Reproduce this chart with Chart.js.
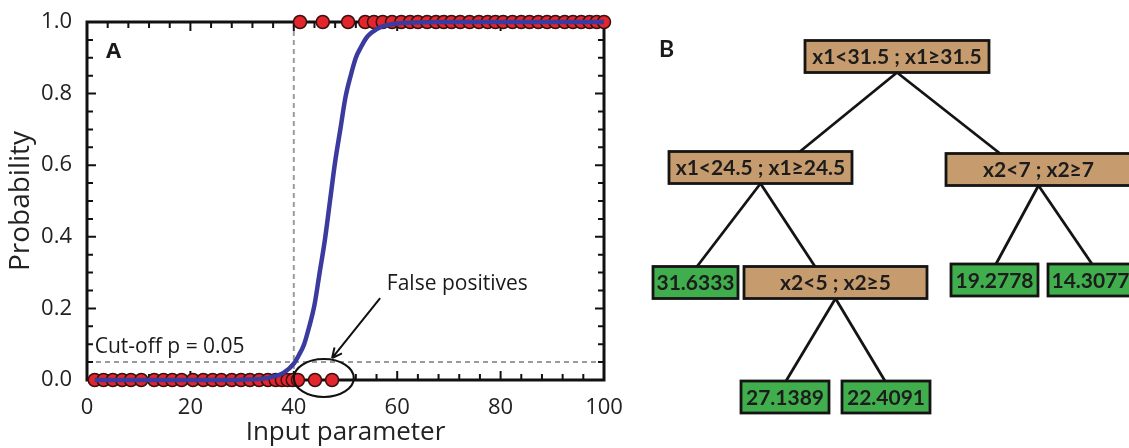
<!DOCTYPE html>
<html>
<head>
<meta charset="utf-8">
<script src="https://cdn.jsdelivr.net/npm/chart.js@4.4.0/dist/chart.umd.min.js"></script>
<style>
  html, body { margin: 0; padding: 0; background: #fff; }
  #wrap { position: relative; width: 1129px; height: 448px; overflow: hidden; background: #fff; }
  #chartA { position: absolute; left: 0; top: 0; }
  #chartB { position: absolute; left: 620px; top: 0; }
</style>
</head>
<body>
<div id="wrap">
  <canvas id="chartA" width="640" height="448"></canvas>
  <canvas id="chartB" width="509" height="448"></canvas>
</div>
<script>
// ---------- Panel A: logistic fit of a binary outcome ----------
// observations with outcome 0
const negativeX = [1.5, 3.2, 5, 6.8, 8.5, 10.5, 13, 14.8, 16.5, 18.3, 20.5, 22.5, 24.3, 26, 28, 29.8, 31.5, 33.3, 35, 36.5, 37.7, 38.8, 39.8, 40.8, 44.1, 47.4];
// observations with outcome 1
const positiveX = [41.2, 45.6, 50.5, 53.8, 55.5, 57.2, 59, 60.8, 62.5, 64, 65.8, 67.5, 69, 70.5, 72.2, 74, 75.8, 77.5, 79, 80.5, 82.3, 84, 85.6, 87.3, 89, 90.6, 92.4, 94, 95.6, 97.2, 98.6, 100];
// fitted probability curve
const curveX = [1.5, 10, 20, 30, 35, 38, 40, 41, 42, 43, 44, 45, 46, 47, 48, 49, 50, 51, 52, 53, 54, 55, 57, 60, 70, 80, 90, 100];
const curveP = [0, 0, 0, 0.001, 0.006, 0.02, 0.046, 0.07, 0.10, 0.15, 0.21, 0.30, 0.39, 0.50, 0.61, 0.70, 0.79, 0.85, 0.90, 0.93, 0.955, 0.97, 0.987, 0.996, 1, 1, 1, 1];
// thresholds
const cutoffP = 0.05;
const cutoffX = 40;
// circled false positives
const fpCenterX = 45.8;
const xTickValues = [0, 20, 40, 60, 80, 100];
const yTickValues = [0, 0.2, 0.4, 0.6, 0.8, 1.0];

// ---------- Panel B: regression tree ----------
const nodeLabels = ['x1<31.5 ; x1≥31.5', 'x1<24.5 ; x1≥24.5', 'x2<7 ; x2≥7', '31.6333', 'x2<5 ; x2≥5', '19.2778', '14.3077', '27.1389', '22.4091'];
const nodeParent = [-1, 0, 0, 1, 1, 2, 2, 4, 4];
const nodeIsLeaf = [false, false, false, true, false, true, true, true, true];

// tree layout (panel units = canvas pixels)
const nodeX = [277, 140.5, 418.5, 75.5, 215.5, 374.5, 470.5, 165, 266];
const nodeY = [56.5, 167.5, 169.5, 282.5, 282.5, 280, 280, 397, 397];
const nodeW = [184, 183, 185, 85, 183, 87, 85, 88, 88];
const edgeEndX = [null, 180, 380, 77, 195, 376, 472, 166, 265];
const BOX_H = 32;

const FONT = "'Open Sans', 'DejaVu Sans', sans-serif";
const TREE_FONT = "Lato, 'Open Sans', sans-serif";

const decorA = {
  id: 'decorA',
  beforeDatasetsDraw(chart) {
    const { ctx, chartArea: a, scales: { x, y } } = chart;
    ctx.save();
    // dashed guide lines
    ctx.strokeStyle = '#9b9b9b';
    ctx.lineWidth = 2;
    ctx.setLineDash([5, 4]);
    ctx.beginPath();
    ctx.moveTo(x.getPixelForValue(cutoffX), y.getPixelForValue(1));
    ctx.lineTo(x.getPixelForValue(cutoffX), y.getPixelForValue(0));
    ctx.stroke();
    ctx.beginPath();
    ctx.moveTo(x.getPixelForValue(0), y.getPixelForValue(cutoffP));
    ctx.lineTo(x.getPixelForValue(100), y.getPixelForValue(cutoffP));
    ctx.stroke();
    ctx.setLineDash([]);

    // inward tick marks on all four sides
    ctx.strokeStyle = '#111';
    ctx.lineWidth = 2;
    ctx.beginPath();
    for (let i = 0; i <= 25; i++) {
      const v = i * 4;
      const px = x.getPixelForValue(v);
      const len = (v % 20 === 0) ? 9 : 6;
      ctx.moveTo(px, a.bottom); ctx.lineTo(px, a.bottom - len);
      ctx.moveTo(px, a.top); ctx.lineTo(px, a.top + len);
    }
    for (let i = 0; i <= 20; i++) {
      const py = y.getPixelForValue(i * 0.05);
      const len = (i % 4 === 0) ? 9 : 6;
      ctx.moveTo(a.left, py); ctx.lineTo(a.left + len, py);
      ctx.moveTo(a.right, py); ctx.lineTo(a.right - len, py);
    }
    ctx.stroke();

    // frame
    ctx.lineWidth = 3;
    ctx.strokeRect(a.left, a.top, a.right - a.left, a.bottom - a.top);
    ctx.restore();
  },
  afterDatasetsDraw(chart) {
    const { ctx, chartArea: a, scales: { x, y } } = chart;
    ctx.save();
    ctx.fillStyle = '#1a1a1a';
    ctx.strokeStyle = '#111';

    // panel letter
    ctx.font = `bold 22px ${FONT}`;
    ctx.textAlign = 'left';
    ctx.textBaseline = 'alphabetic';
    ctx.fillText('A', a.left + 19, a.top + 36);

    // cut-off label
    ctx.font = `21px ${FONT}`;
    ctx.fillText('Cut-off p = 0.05', x.getPixelForValue(1.5), y.getPixelForValue(0.075));

    // ellipse around false positives
    ctx.lineWidth = 2.2;
    ctx.beginPath();
    ctx.ellipse(x.getPixelForValue(fpCenterX), y.getPixelForValue(0) - 2, 30, 19, 0, 0, Math.PI * 2);
    ctx.stroke();

    // annotation text and arrow
    ctx.font = `21px ${FONT}`;
    ctx.fillText('False positives', x.getPixelForValue(58), y.getPixelForValue(0.252));
    const x0 = x.getPixelForValue(56.7), y0 = y.getPixelForValue(0.229);
    const x1 = x.getPixelForValue(47.4), y1 = y.getPixelForValue(0.061);
    ctx.lineWidth = 2;
    ctx.beginPath();
    ctx.moveTo(x0, y0); ctx.lineTo(x1, y1);
    const ang = Math.atan2(y1 - y0, x1 - x0);
    const head = 11;
    ctx.moveTo(x1, y1); ctx.lineTo(x1 - head * Math.cos(ang - 0.45), y1 - head * Math.sin(ang - 0.45));
    ctx.moveTo(x1, y1); ctx.lineTo(x1 - head * Math.cos(ang + 0.45), y1 - head * Math.sin(ang + 0.45));
    ctx.stroke();
    ctx.restore();
  }
};

new Chart(document.getElementById('chartA'), {
  type: 'scatter',
  data: {
    datasets: [
      {
        label: 'Logistic fit',
        type: 'line',
        data: curveX.map((v, i) => ({ x: v, y: curveP[i] })),
        borderColor: '#3b3b9f',
        borderWidth: 4.5,
        pointRadius: 0,
        fill: false,
        cubicInterpolationMode: 'monotone',
        clip: false,
        order: 0
      },
      {
        label: 'Outcome 1',
        data: positiveX.map(v => ({ x: v, y: 1 })),
        backgroundColor: '#e3262c',
        borderColor: '#3a1010',
        borderWidth: 1.5,
        pointRadius: 6.5,
        clip: false,
        order: 1
      },
      {
        label: 'Outcome 0',
        data: negativeX.map(v => ({ x: v, y: 0 })),
        backgroundColor: '#e3262c',
        borderColor: '#3a1010',
        borderWidth: 1.5,
        pointRadius: 6.5,
        clip: false,
        order: 2
      }
    ]
  },
  options: {
    responsive: false,
    animation: false,
    devicePixelRatio: 1,
    layout: { padding: { left: 0, right: 36, top: 22, bottom: 0 } },
    plugins: { legend: { display: false }, tooltip: { enabled: false } },
    scales: {
      x: {
        type: 'linear', min: 0, max: 100,
        grid: { display: false }, border: { display: false },
        afterBuildTicks: s => { s.ticks = xTickValues.map(v => ({ value: v })); },
        afterFit: s => { s.height = 68; },
        ticks: { color: '#222', font: { family: FONT, size: 22 }, padding: 7, maxRotation: 0,
                 callback: v => String(v) },
        title: { display: true, text: 'Input parameter', color: '#222',
                 font: { family: FONT, size: 26 }, padding: { top: 0, bottom: 0 } }
      },
      y: {
        type: 'linear', min: 0, max: 1,
        grid: { display: false }, border: { display: false },
        afterBuildTicks: s => { s.ticks = yTickValues.map(v => ({ value: v })); },
        afterFit: s => { s.width = 87; },
        ticks: { color: '#222', font: { family: FONT, size: 22 }, padding: 7,
                 callback: v => Number(v).toFixed(1) },
        title: { display: true, text: 'Probability', color: '#222',
                 font: { family: FONT, size: 28 }, padding: { top: 4, bottom: 0 } }
      }
    }
  },
  plugins: [decorA]
});

// ---------- Panel B drawing ----------
const treeBoxes = {
  id: 'treeBoxes',
  afterDatasetsDraw(chart) {
    const { ctx, scales: { x, y } } = chart;
    ctx.save();
    ctx.font = `bold 23px ${TREE_FONT}`;
    ctx.fillStyle = '#1a1a1a';
    ctx.textAlign = 'left';
    ctx.textBaseline = 'alphabetic';
    ctx.fillText('B', x.getPixelForValue(39), y.getPixelForValue(57));

    nodeLabels.forEach((label, i) => {
      const cx = x.getPixelForValue(nodeX[i]);
      const cy = y.getPixelForValue(nodeY[i]);
      const w = x.getPixelForValue(nodeX[i] + nodeW[i] / 2) - x.getPixelForValue(nodeX[i] - nodeW[i] / 2);
      const h = Math.abs(y.getPixelForValue(nodeY[i] + BOX_H / 2) - y.getPixelForValue(nodeY[i] - BOX_H / 2));
      ctx.fillStyle = nodeIsLeaf[i] ? '#41ae4d' : '#c69b6e';
      ctx.fillRect(cx - w / 2, cy - h / 2, w, h);
      ctx.lineWidth = 2.8;
      ctx.strokeStyle = '#141414';
      ctx.strokeRect(cx - w / 2, cy - h / 2, w, h);
      ctx.fillStyle = '#1c1c1c';
      ctx.font = `bold 21px ${TREE_FONT}`;
      ctx.textAlign = 'center';
      ctx.textBaseline = 'middle';
      ctx.fillText(label, cx, cy + 1);
    });
    ctx.restore();
  }
};

const edgeDatasets = [];
nodeParent.forEach((p, i) => {
  if (p < 0) return;
  edgeDatasets.push({
    data: [
      { x: nodeX[p], y: nodeY[p] + BOX_H / 2 },
      { x: edgeEndX[i], y: nodeY[i] - BOX_H / 2 }
    ],
    showLine: true,
    borderColor: '#141414',
    borderWidth: 2.8,
    pointRadius: 0,
    clip: false
  });
});

new Chart(document.getElementById('chartB'), {
  type: 'scatter',
  data: { datasets: edgeDatasets },
  options: {
    responsive: false,
    animation: false,
    devicePixelRatio: 1,
    layout: { padding: 0 },
    plugins: { legend: { display: false }, tooltip: { enabled: false } },
    scales: {
      x: { type: 'linear', min: 0, max: 509, display: false },
      y: { type: 'linear', min: 0, max: 448, reverse: true, display: false }
    }
  },
  plugins: [treeBoxes]
});
</script>
</body>
</html>
